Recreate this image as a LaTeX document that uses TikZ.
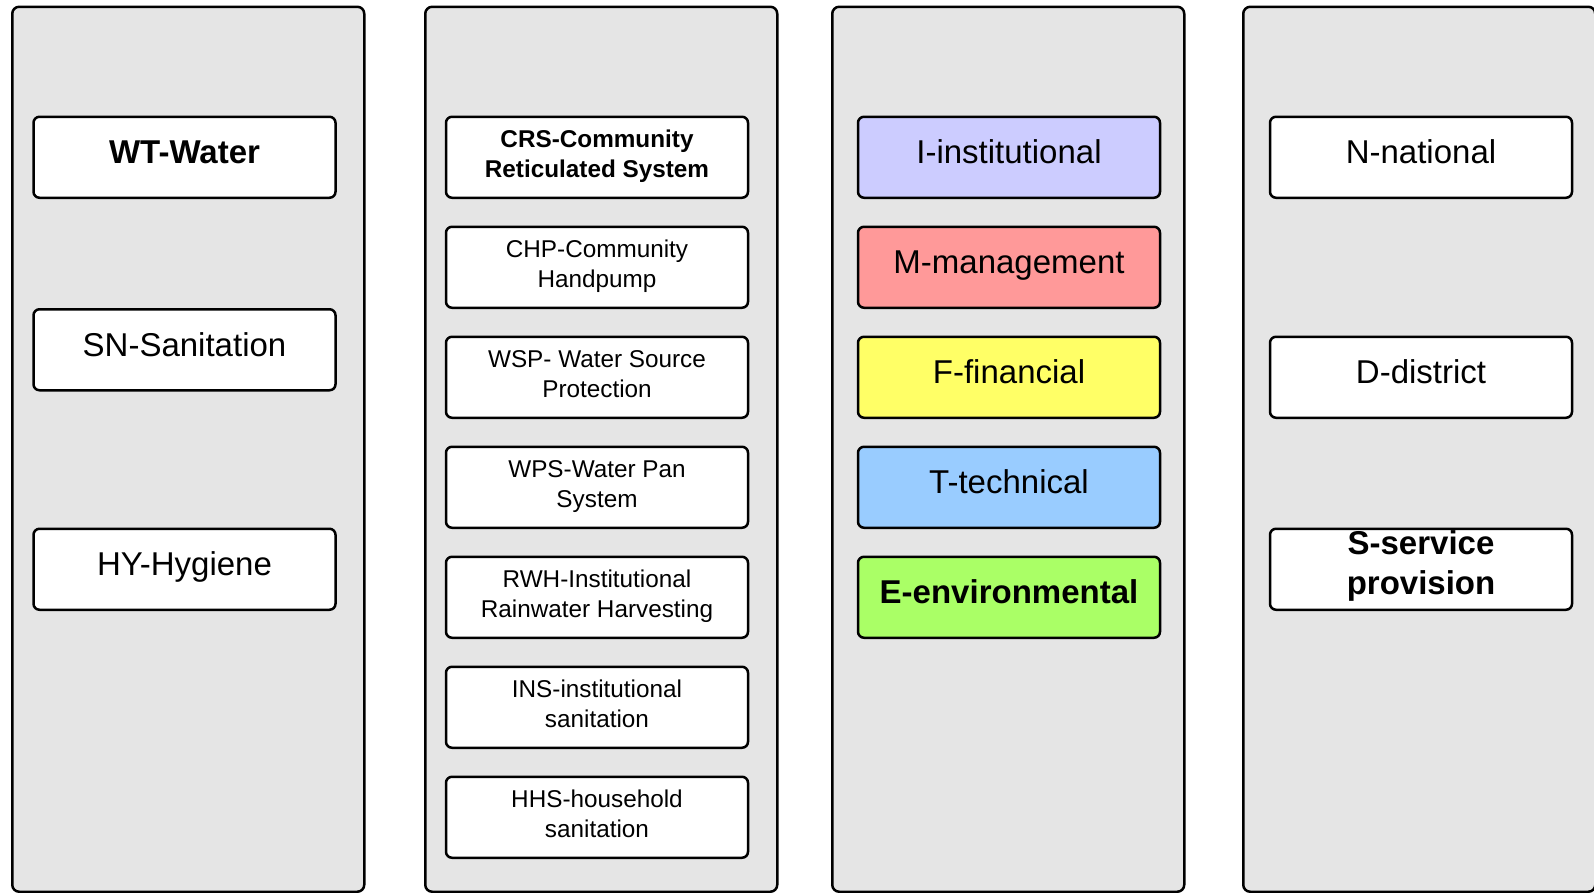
\documentclass[tikz,border=0pt]{standalone}
\usepackage{fontspec}
\setmainfont{Liberation Sans}
\definecolor{colbg}{HTML}{E5E5E5}
\definecolor{cinst}{HTML}{CCCCFF}
\definecolor{cmgmt}{HTML}{FF9999}
\definecolor{cfin}{HTML}{FFFF66}
\definecolor{ctech}{HTML}{99CCFF}
\definecolor{cenv}{HTML}{AAFF66}
\newcommand\oneline[1]{\raisebox{0pt}[47pt][34pt]{#1}}
\newcommand\twoline[2]{\raisebox{0pt}[30.5pt][50.5pt]{\begin{tabular}[t]{@{}c@{}}#1\\#2\end{tabular}}}
\newcommand\twolinebig[2]{\raisebox{0pt}[26pt][55pt]{\begin{tabular}[t]{@{}c@{}}#1\\#2\end{tabular}}}
\begin{document}
\begin{tikzpicture}[x=1pt,y=-1pt,
  column/.style={draw=black, line width=2.5pt, fill=colbg, rounded corners=7pt,
    inner sep=0pt, minimum width=352pt, minimum height=885pt, anchor=north west},
  box/.style={draw=black, line width=2.5pt, fill=white, rounded corners=6pt,
    inner sep=0pt, minimum width=302pt, minimum height=81pt, anchor=north},
  big/.style={font=\fontsize{33}{40}\selectfont},
  bigb/.style={font=\fontsize{33}{40}\selectfont\bfseries},
  small/.style={font=\fontsize{24.3}{30}\selectfont},
  smallb/.style={font=\fontsize{24.3}{30}\selectfont\bfseries},
]
\useasboundingbox (0,0) rectangle (1594,892);
\fill[white] (0,0) rectangle (1594,892);
% columns
\node[column] (c1) at (11,5.5) {};
\node[column] (c2) at (424,5.5) {};
\node[column] (c3) at (831,5.5) {};
\node[column] (c4) at (1242,5.5) {};
% column 1
\node[box,bigb] (wt) at (184.5,115.5) {\oneline{WT-Water}};
\node[box,big] (sn) at (184.5,308) {\oneline{SN-Sanitation}};
\node[box,big] (hy) at (184.5,527.5) {\oneline{HY-Hygiene}};
% column 2
\node[box,smallb] (crs) at (597,115.5) {\twoline{CRS-Community}{Reticulated System}};
\node[box,small] (chp) at (597,225.5) {\twoline{CHP-Community}{Handpump}};
\node[box,small] (wsp) at (597,335.5) {\twoline{WSP- Water Source}{Protection}};
\node[box,small] (wps) at (597,445.5) {\twoline{WPS-Water Pan}{System}};
\node[box,small] (rwh) at (597,555.5) {\twoline{RWH-Institutional}{Rainwater Harvesting}};
\node[box,small] (ins) at (597,665.5) {\twoline{INS-institutional}{sanitation}};
\node[box,small] (hhs) at (597,775.5) {\twoline{HHS-household}{sanitation}};
% column 3
\node[box,big,fill=cinst] (inst) at (1009,115.5) {\oneline{I-institutional}};
\node[box,big,fill=cmgmt] (mgmt) at (1009,225.5) {\oneline{M-management}};
\node[box,big,fill=cfin] (fin) at (1009,335.5) {\oneline{F-financial}};
\node[box,big,fill=ctech] (tech) at (1009,445.5) {\oneline{T-technical}};
\node[box,bigb,fill=cenv] (env) at (1009,555.5) {\oneline{E-environmental}};
% column 4
\node[box,big] (nat) at (1421,115.5) {\oneline{N-national}};
\node[box,big] (dis) at (1421,335.5) {\oneline{D-district}};
\node[box,bigb] (svc) at (1421,527.5) {\twolinebig{S-service}{provision}};
\end{tikzpicture}
\end{document}
